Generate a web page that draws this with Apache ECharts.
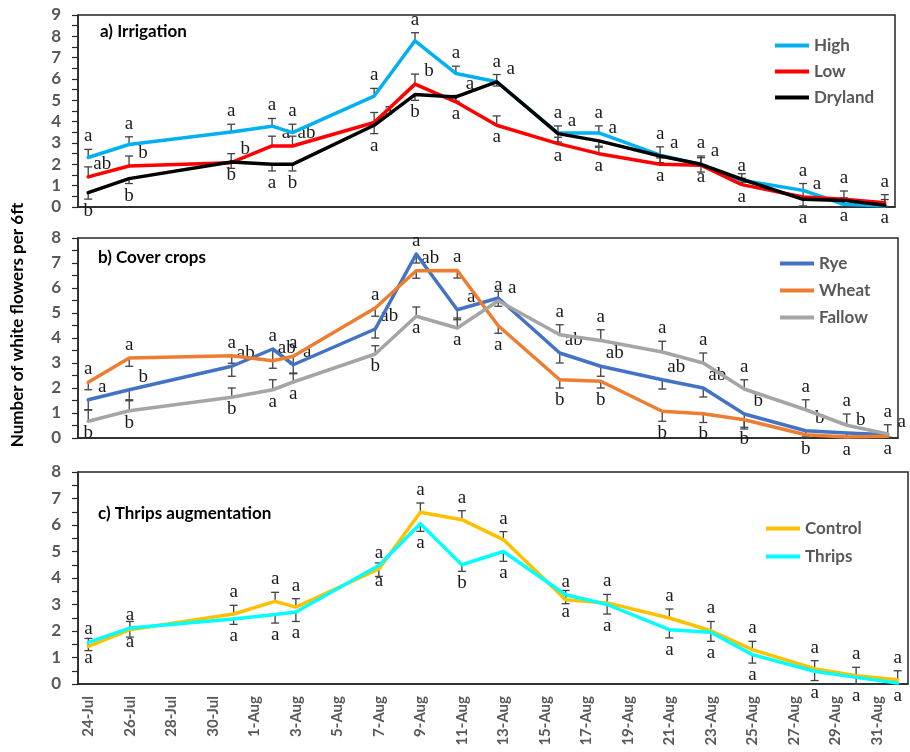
<!DOCTYPE html>
<html>
<head>
<meta charset="utf-8">
<script src="https://cdn.jsdelivr.net/npm/echarts/dist/echarts.min.js"></script>
<style>
  html, body { margin: 0; padding: 0; background: #fff; }
  #chart { width: 910px; height: 752px; }
</style>
</head>
<body>
<div id="chart"></div>
<script>
// Daily category axis, 24 Jul – 1 Sep
const dayLabels = ['24-Jul','25-Jul','26-Jul','27-Jul','28-Jul','29-Jul','30-Jul','31-Jul',
  '1-Aug','2-Aug','3-Aug','4-Aug','5-Aug','6-Aug','7-Aug','8-Aug','9-Aug','10-Aug',
  '11-Aug','12-Aug','13-Aug','14-Aug','15-Aug','16-Aug','17-Aug','18-Aug','19-Aug','20-Aug',
  '21-Aug','22-Aug','23-Aug','24-Aug','25-Aug','26-Aug','27-Aug','28-Aug','29-Aug','30-Aug',
  '31-Aug','1-Sep'];

// Sampling dates
const sampleDates = ['24-Jul','26-Jul','31-Jul','2-Aug','3-Aug','7-Aug','9-Aug','11-Aug','13-Aug',
  '16-Aug','18-Aug','21-Aug','23-Aug','25-Aug','28-Aug','30-Aug','1-Sep'];

// a) Irrigation
const irrigHigh    = [2.32, 2.93, 3.52, 3.79, 3.49, 5.20, 7.79, 6.26, 5.87, 3.47, 3.47, 2.43, 2.00, 1.25, 0.78, 0.13, 0.05];
const irrigLow     = [1.41, 1.92, 2.08, 2.86, 2.86, 3.96, 5.76, 4.93, 3.83, 2.97, 2.50, 2.00, 1.96, 1.05, 0.47, 0.36, 0.20];
const irrigDry     = [0.67, 1.33, 2.11, 2.00, 2.00, 3.83, 5.27, 5.16, 5.87, 3.44, 3.10, 2.39, 2.00, 1.30, 0.36, 0.31, 0.08];
const irrigHighErr = [0.38, 0.36, 0.36, 0.36, 0.39, 0.36, 0.38, 0.34, 0.34, 0.33, 0.33, 0.39, 0.39, 0.31, 0.32, 0.30, 0.30];
const irrigLowErr  = [0.47, 0.47, 0.42, 0.46, 0.46, 0.47, 0.47, 0.30, 0.44, 0.30, 0.30, 0.30, 0.35, 0.30, 0.30, 0.39, 0.38];
const irrigDryErr  = [0.30, 0.23, 0.30, 0.31, 0.31, 0.39, 0.27, 0.20, 0.20, 0.39, 0.25, 0.31, 0.36, 0.15, 0.31, 0.20, 0.05];
const irrigHighLet = ['a','a','a','a','a','a','a','a','a','a','a','a','a','','a','a','a'];
const irrigLowLet  = ['ab','b','b','a','ab','a','b','a','a','a','a','a','a','a','a','a','a'];
const irrigDryLet  = ['b','b','b','a','b','a','b','a','a','a','a','a','a','a','a','','' ];

// b) Cover crops
const coverRye       = [1.53, 1.93, 2.87, 3.56, 2.93, 4.36, 7.36, 5.13, 5.60, 3.40, 2.87, 2.33, 2.00, 0.96, 0.29, 0.20, 0.13];
const coverWheat     = [2.23, 3.20, 3.29, 3.09, 3.27, 5.20, 6.69, 6.70, 4.49, 2.33, 2.27, 1.07, 0.97, 0.73, 0.13, 0.04, 0.07];
const coverFallow    = [0.67, 1.09, 1.63, 1.93, 2.24, 3.36, 4.87, 4.40, 5.49, 4.13, 3.90, 3.44, 3.00, 1.96, 1.13, 0.51, 0.16];
const coverRyeErr    = [0.40, 0.40, 0.40, 0.45, 0.36, 0.36, 0.36, 0.40, 0.33, 0.40, 0.40, 0.37, 0.36, 0.60, 0.25, 0.15, 0.10];
const coverWheatErr  = [0.30, 0.33, 0.30, 0.30, 0.30, 0.33, 0.30, 0.30, 0.30, 0.33, 0.27, 0.40, 0.35, 0.30, 0.10, 0.04, 0.05];
const coverFallowErr = [0.45, 0.40, 0.37, 0.40, 0.36, 0.33, 0.37, 0.40, 0.38, 0.40, 0.43, 0.43, 0.40, 0.37, 0.40, 0.45, 0.37];
const coverRyeLet    = ['a','b','ab','a','a','ab','a','a','a','ab','ab','ab','ab','b','b','b','a'];
const coverWheatLet  = ['a','a','a','ab','a','a','ab','a','a','b','b','b','b','b','b','a','a'];
const coverFallowLet = ['b','b','b','a','a','b','a','a','a','a','a','a','a','a','a','a','a'];

// c) Thrips augmentation
const thripsControl    = [1.42, 2.05, 2.64, 3.12, 2.90, 4.34, 6.48, 6.20, 5.45, 3.18, 3.06, 2.49, 2.01, 1.30, 0.58, 0.31, 0.16];
const thripsAdded      = [1.57, 2.11, 2.45, 2.62, 2.72, 4.47, 6.05, 4.50, 5.00, 3.37, 3.00, 2.05, 1.95, 1.11, 0.48, 0.25, 0.04];
const thripsControlErr = [0.30, 0.31, 0.33, 0.34, 0.32, 0.23, 0.35, 0.34, 0.30, 0.35, 0.32, 0.34, 0.35, 0.31, 0.30, 0.32, 0.34];
const thripsAddedErr   = [0.31, 0.34, 0.20, 0.32, 0.36, 0.41, 0.29, 0.25, 0.37, 0.34, 0.36, 0.31, 0.34, 0.32, 0.35, 0.25, 0.04];
const thripsControlLet = ['a','a','a','a','a','a','a','a','a','a','a','a','a','a','a','a','a'];
const thripsAddedLet   = ['a','a','a','a','a','a','a','b','a','a','a','a','a','a','a','a','a'];

const yMax = [9, 8, 8];

// dir: +1 = upper error bar, -1 = lower error bar
const panels = [
  { title: 'a) Irrigation', series: [
    { name: 'High',    color: '#00B0F0', values: irrigHigh, err: irrigHighErr, dir: 1,  letters: irrigHighLet },
    { name: 'Low',     color: '#FF0000', values: irrigLow,  err: irrigLowErr,  dir: 1,  letters: irrigLowLet },
    { name: 'Dryland', color: '#000000', values: irrigDry,  err: irrigDryErr,  dir: -1, letters: irrigDryLet }
  ]},
  { title: 'b) Cover crops', series: [
    { name: 'Rye',    color: '#4472C4', values: coverRye,    err: coverRyeErr,    dir: -1, letters: coverRyeLet },
    { name: 'Wheat',  color: '#ED7D31', values: coverWheat,  err: coverWheatErr,  dir: -1, letters: coverWheatLet },
    { name: 'Fallow', color: '#A5A5A5', values: coverFallow, err: coverFallowErr, dir: 1,  letters: coverFallowLet }
  ]},
  { title: 'c) Thrips augmentation', series: [
    { name: 'Control', color: '#FFC000', values: thripsControl, err: thripsControlErr, dir: 1,  letters: thripsControlLet },
    { name: 'Thrips',  color: '#00FFFF', values: thripsAdded,   err: thripsAddedErr,   dir: -1, letters: thripsAddedLet }
  ]}
];

const gridBoxes = [
  { left: 78, top: 15,  width: 817, height: 192 },
  { left: 78, top: 238, width: 820, height: 200 },
  { left: 78, top: 472, width: 830, height: 212 }
];
const legendBoxes = [
  { left: 775, top: 37,  itemGap: 9 },
  { left: 780, top: 255, itemGap: 10 },
  { left: 766, top: 520, itemGap: 11 }
];

const axisColor = '#262626';
const tickFont = 'Lato';

const grids = gridBoxes.map(b => Object.assign({ show: true, borderColor: axisColor, borderWidth: 1.5 }, b));

const xAxes = panels.map((p, gi) => ({
  gridIndex: gi, type: 'category', data: dayLabels, boundaryGap: true,
  axisLine: { show: true, lineStyle: { color: axisColor, width: 1.5 } },
  axisTick: { show: false },
  splitLine: { show: false },
  axisLabel: { show: gi === 2, interval: 1, rotate: 90, margin: 12,
    fontSize: 15, fontWeight: 'bold', color: '#595959', fontFamily: tickFont }
}));

const yAxes = panels.map((p, gi) => ({
  gridIndex: gi, type: 'value', min: 0, max: yMax[gi], interval: 1,
  axisLine: { show: true, lineStyle: { color: axisColor, width: 1.5 } },
  axisTick: { show: true, length: 6, lineStyle: { color: axisColor, width: 1.2 } },
  minorTick: { show: true, splitNumber: 2, length: 6, lineStyle: { color: axisColor, width: 1.2 } },
  splitLine: { show: false },
  axisLabel: { margin: 17, fontSize: 17, fontWeight: 'bold', color: '#595959', fontFamily: tickFont }
}));

const series = [];
panels.forEach((panel, gi) => {
  panel.series.forEach((s, si) => {
    // error bars and significance letters
    series.push({
      type: 'custom', xAxisIndex: gi, yAxisIndex: gi, z: 1, silent: true, clip: false,
      data: sampleDates.map((d, i) => [d, s.values[i]]),
      renderItem: (params, api) => {
        const i = params.dataIndex;
        const v = s.values[i];
        const end = v + s.dir * s.err[i];
        const p = api.coord([api.value(0), v]);
        const q = api.coord([api.value(0), end]);
        const vals = panel.series.map(o => o.values[i]);
        const higher = vals.filter((o, k) => k !== si && (o > v || (o === v && k < si))).length;
        const n = vals.length;
        const topY = Math.min(p[1], q[1]), botY = Math.max(p[1], q[1]);
        let tx = p[0], ty;
        if (higher === 0) ty = topY - 13;
        else if (higher === n - 1) ty = botY + 12;
        else { tx = p[0] + 14; ty = p[1] - 13; }
        const barStyle = { stroke: '#404040', lineWidth: 1.3 };
        return {
          type: 'group',
          children: [
            { type: 'line', shape: { x1: p[0], y1: p[1], x2: q[0], y2: q[1] }, style: barStyle },
            { type: 'line', shape: { x1: q[0] - 4, y1: q[1], x2: q[0] + 4, y2: q[1] }, style: barStyle },
            { type: 'text', style: { text: s.letters[i], x: tx, y: ty, align: 'center', verticalAlign: 'middle',
                fontSize: 19, fontFamily: 'Liberation Serif', fill: '#1a1a1a' } }
          ]
        };
      }
    });
    series.push({
      name: s.name, type: 'line', xAxisIndex: gi, yAxisIndex: gi, z: 3,
      data: sampleDates.map((d, i) => [d, s.values[i]]),
      showSymbol: false, symbol: 'none',
      lineStyle: { color: s.color, width: 3.5, join: 'round', cap: 'round' },
      itemStyle: { color: s.color }
    });
  });
});

const legends = panels.map((panel, gi) => ({
  data: panel.series.map(s => s.name),
  orient: 'vertical', left: legendBoxes[gi].left, top: legendBoxes[gi].top,
  itemGap: legendBoxes[gi].itemGap, padding: 0,
  icon: 'rect', itemWidth: 34, itemHeight: 4, selectedMode: false,
  textStyle: { fontSize: 17, lineHeight: 16, fontWeight: 'bold', color: '#595959', fontFamily: tickFont }
}));

const titleFont = { fontSize: 17, fontFamily: tickFont, color: '#000' };
const titles = [
  { text: '{n|a) }{b|Irrigation}', left: 100, top: 23, padding: 0,
    textStyle: { rich: { n: Object.assign({}, titleFont), b: Object.assign({ fontWeight: 'bold' }, titleFont) } } },
  { text: 'b) Cover crops', left: 98, top: 249, padding: 0, textStyle: Object.assign({ fontWeight: 'bold' }, titleFont) },
  { text: 'c) Thrips augmentation', left: 98, top: 505, padding: 0, textStyle: Object.assign({ fontWeight: 'bold' }, titleFont) }
];

const chart = echarts.init(document.getElementById('chart'), null, { renderer: 'canvas' });
chart.setOption({
  animation: false,
  backgroundColor: '#fff',
  title: titles,
  legend: legends,
  grid: grids,
  xAxis: xAxes,
  yAxis: yAxes,
  series: series,
  graphic: [{
    type: 'text', x: 18, y: 325, rotation: Math.PI / 2,
    style: { text: 'Number of white flowers per 6ft', fontSize: 17, fontWeight: 'bold',
      fontFamily: tickFont, fill: '#000', align: 'center', verticalAlign: 'middle' }
  }]
});
</script>
</body>
</html>
